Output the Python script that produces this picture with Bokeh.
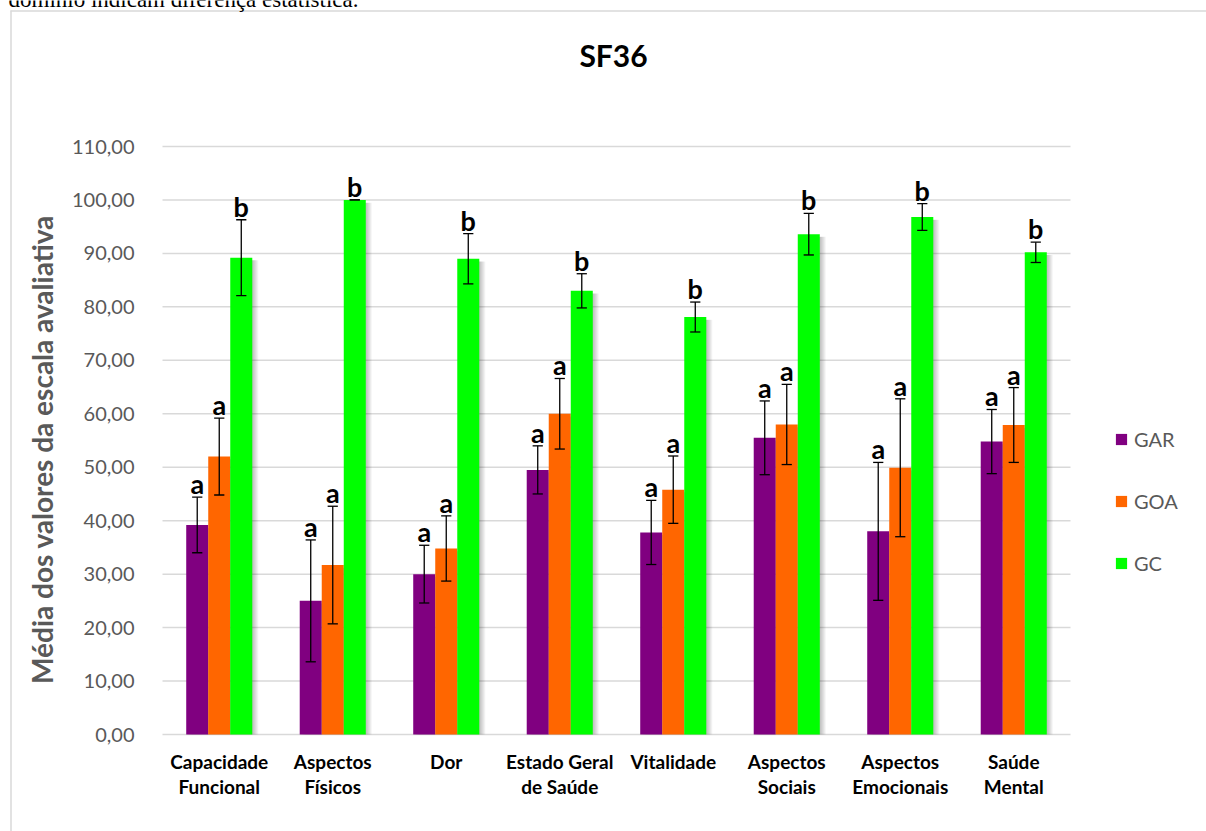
from bokeh.plotting import figure
from bokeh.models import (ColumnDataSource, Range1d, FixedTicker, LinearAxis, Legend, LegendItem)
from bokeh.transform import dodge
from bokeh.core.properties import value
from bokeh.embed import file_html
from bokeh.resources import INLINE

# SF-36 domains and group means with their deviations
categories = ["Capacidade Funcional", "Aspectos Físicos", "Dor", "Estado Geral de Saúde",
              "Vitalidade", "Aspectos Sociais", "Aspectos Emocionais", "Saúde Mental"]
label_line1 = ["Capacidade", "Aspectos", "Dor", "Estado Geral", "Vitalidade", "Aspectos",
               "Aspectos", "Saúde"]
label_line2 = ["Funcional", "Físicos", "", "de Saúde", "", "Sociais", "Emocionais", "Mental"]
groups = ["GAR", "GOA", "GC"]
gar = [39.2, 25.0, 30.0, 49.5, 37.8, 55.5, 38.0, 54.8]
gar_err = [5.2, 11.4, 5.4, 4.5, 6.0, 6.9, 12.9, 6.0]
goa = [52.0, 31.7, 34.8, 60.0, 45.8, 58.0, 49.9, 57.9]
goa_err = [7.2, 11.0, 6.1, 6.6, 6.3, 7.5, 12.9, 7.0]
gc = [89.2, 100.0, 89.0, 83.0, 78.1, 93.6, 96.8, 90.2]
gc_err = [7.1, 0.0, 4.7, 3.2, 2.8, 3.9, 2.5, 1.9]
gar_letters = ["a"] * 8
goa_letters = ["a"] * 8
gc_letters = ["b"] * 8
y_ticks = [0, 10, 20, 30, 40, 50, 60, 70, 80, 90, 100, 110]
y_tick_labels = ["0,00", "10,00", "20,00", "30,00", "40,00", "50,00", "60,00",
                 "70,00", "80,00", "90,00", "100,00", "110,00"]
title = "SF36"
caption = "domínio indicam diferença estatística."

FONT = "Lato"
GRAY = "#595959"
GRID = "#d9d9d9"
BORDER = "#d9d9d9"
colors = ["#800080", "#ff6600", "#00ff00"]
offsets = [-0.194, 0.0, 0.194]
BAR_W = 0.194
CAP = 0.045

# canvas geometry (pixels): the plotting area spans x 162..1070 and y 146..734
W, H = 1206, 831
PA_LEFT, PA_RIGHT, PA_TOP, PA_BOTTOM = 162, 1070, 146, 734
Y_MAX = y_ticks[-1]
PXU = (PA_RIGHT - PA_LEFT) / len(categories)      # pixels per category unit
PYU = (PA_BOTTOM - PA_TOP) / Y_MAX                # pixels per value unit


def cx(px):
    return (px - PA_LEFT) / PXU


def cy(py):
    return (PA_BOTTOM - py) / PYU


x_pos = [i + 0.5 for i in range(len(categories))]

p = figure(width=W, height=H, x_range=Range1d(cx(0), cx(W)), y_range=Range1d(cy(H), cy(0)),
           output_backend="svg", toolbar_location=None, min_border=0,
           outline_line_color=None, x_axis_type=None, y_axis_type=None)
p.grid.visible = False

# chart border and the caption line running above it
p.segment(x0=[cx(10)], y0=[cy(10.5)], x1=[cx(W + 5)], y1=[cy(10.5)], line_color=BORDER,
          line_width=1.5)
p.segment(x0=[cx(10.5)], y0=[cy(10)], x1=[cx(10.5)], y1=[cy(H + 5)], line_color=BORDER,
          line_width=1.5)
p.text(x=[cx(8)], y=[cy(-1)], text=[caption], text_font=value("Liberation Serif"),
       text_font_size="23px", text_baseline="alphabetic", text_color="black")

# chart title
p.text(x=[cx(613)], y=[cy(54)], text=[title], text_align="center", text_baseline="middle",
       text_font=value(FONT), text_font_style="bold", text_font_size="30px",
       text_color="black")

# horizontal grid lines over the category span
p.segment(x0=[0] * len(y_ticks), y0=y_ticks, x1=[len(categories)] * len(y_ticks), y1=y_ticks,
          line_color=GRID, line_width=1.5)

series = [(gar, gar_err, gar_letters), (goa, goa_err, goa_letters), (gc, gc_err, gc_letters)]
sources = []
for vals, errs, letters in series:
    sources.append(ColumnDataSource(dict(
        x=x_pos, val=vals, err=errs, letter=letters,
        upper=[v + e for v, e in zip(vals, errs)],
        lower=[v - e for v, e in zip(vals, errs)],
        shadow_top=[v - 0.5 for v in vals])))

# soft drop shadow on the right side of each bar
px = 1.0 / PXU
for src, off in zip(sources, offsets):
    for k in range(1, 7):
        p.vbar(x=dodge("x", off + k * px), top="shadow_top", bottom=0, width=BAR_W,
               source=src, fill_color="#000000", fill_alpha=0.045, line_color=None)

legend_items = []
for src, off, col, name in zip(sources, offsets, colors, groups):
    r = p.vbar(x=dodge("x", off), top="val", bottom=0, width=BAR_W, source=src,
               fill_color=col, line_color=None)
    legend_items.append(LegendItem(label=name, renderers=[r]))

# error bars with caps, and the significance letters above them
for src, off in zip(sources, offsets):
    xc = dodge("x", off)
    xl = dodge("x", off - CAP)
    xr = dodge("x", off + CAP)
    p.segment(x0=xc, y0="lower", x1=xc, y1="upper", source=src, line_color="black",
              line_width=1.3)
    p.segment(x0=xl, y0="upper", x1=xr, y1="upper", source=src, line_color="black",
              line_width=1.3)
    p.segment(x0=xl, y0="lower", x1=xr, y1="lower", source=src, line_color="black",
              line_width=1.3)
    p.text(x=xc, y="upper", text="letter", source=src, text_align="center",
           text_baseline="bottom", y_offset=3, text_font=value(FONT),
           text_font_style="bold", text_font_size="27px", text_color="black")

# value axis, anchored at the left edge of the category span; its title is
# centred a little below the middle of the value span
label_centre = cy(449)
yax = LinearAxis(fixed_location=0, bounds=(2 * label_centre - Y_MAX, Y_MAX),
                 ticker=FixedTicker(ticks=y_ticks))
yax.major_label_overrides = {t: s for t, s in zip(y_ticks, y_tick_labels)}
yax.axis_line_color = None
yax.major_tick_line_color = None
yax.minor_tick_line_color = None
yax.major_label_text_font = FONT
yax.major_label_text_font_size = "20px"
yax.major_label_text_color = GRAY
yax.major_label_standoff = 22
yax.axis_label = "Média dos valores da escala avaliativa"
yax.axis_label_text_font = FONT
yax.axis_label_text_font_style = "bold"
yax.axis_label_text_font_size = "28px"
yax.axis_label_text_color = GRAY
yax.axis_label_standoff = 10
p.add_layout(yax, "left")


def category_axis(labels, standoff):
    ax = LinearAxis(fixed_location=0, bounds=(0, len(categories)),
                    ticker=FixedTicker(ticks=x_pos))
    ax.axis_line_color = None
    ax.major_tick_line_color = None
    ax.minor_tick_line_color = None
    ax.major_label_overrides = {x: (l if l else " ") for x, l in zip(x_pos, labels)}
    ax.major_label_text_font = FONT
    ax.major_label_text_font_style = "bold"
    ax.major_label_text_font_size = "19px"
    ax.major_label_text_color = "black"
    ax.major_label_standoff = standoff
    p.add_layout(ax, "below")


category_axis(label_line1, 9)
category_axis(label_line2, 34)

legend = Legend(items=legend_items, location=(1114, 256), orientation="vertical",
                glyph_width=14, glyph_height=14, label_height=20, spacing=38,
                label_standoff=6, padding=0, margin=0, border_line_color=None,
                background_fill_alpha=0, label_text_font=FONT,
                label_text_font_size="20px", label_text_color=GRAY)
p.add_layout(legend)

open("out.html", "w").write(file_html(p, INLINE))
